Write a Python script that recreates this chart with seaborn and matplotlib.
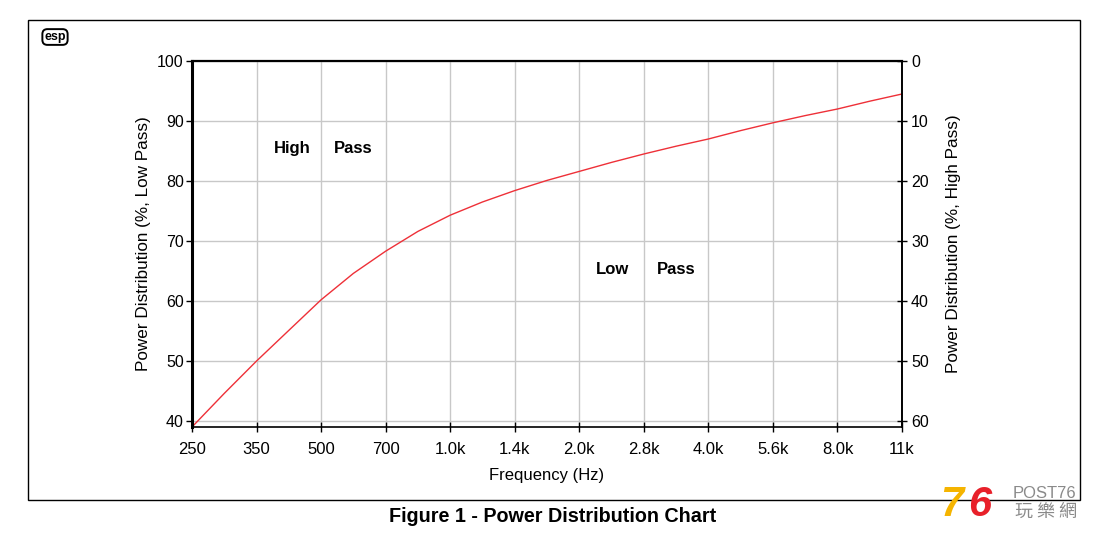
import matplotlib
matplotlib.use("Agg")
import matplotlib.pyplot as plt
from matplotlib.patches import Rectangle
import seaborn as sns
import pandas as pd

# ---- data ----
tick_freq_hz = [250, 353.6, 500, 707.1, 1000, 1414, 2000, 2828, 4000, 5657, 8000, 11314]
tick_labels = ["250", "350", "500", "700", "1.0k", "1.4k", "2.0k", "2.8k", "4.0k", "5.6k", "8.0k", "11k"]
curve_freq_hz = [250, 297.3, 353.6, 420.4, 500, 594.6, 707.1, 840.9, 1000, 1189, 1414,
                 1682, 2000, 2378, 2828, 3364, 4000, 4757, 5657, 6727, 8000, 9514, 11314]
low_pass_pct = [39.0, 44.6, 50.0, 55.1, 60.2, 64.6, 68.3, 71.6, 74.3, 76.5, 78.4,
                80.1, 81.6, 83.1, 84.5, 85.8, 87.0, 88.4, 89.7, 90.9, 92.0, 93.3, 94.5]
left_ticks = [40, 50, 60, 70, 80, 90, 100]
right_ticks = [0, 10, 20, 30, 40, 50, 60]

plt.rcParams['font.family'] = ['Liberation Sans', 'DejaVu Sans']

df = pd.DataFrame({"freq": curve_freq_hz, "low": low_pass_pct})

fig = plt.figure(figsize=(11, 5.35), dpi=100)
W, H = 1100, 535
ax = fig.add_axes([192 / W, 1 - 427 / H, 710 / W, 366 / H])

sns.lineplot(data=df, x="freq", y="low", ax=ax, color="#ee3038", linewidth=1.0)

ax.set_xscale("log")
ax.set_xlim(tick_freq_hz[0], tick_freq_hz[-1])
ax.set_ylim(39, 100)
ax.set_xticks(tick_freq_hz)
ax.set_xticklabels(tick_labels)
ax.minorticks_off()
ax.set_yticks(left_ticks)
ax.grid(True, color="#c8c8c8", linewidth=1.0)
ax.set_axisbelow(True)
for s in ax.spines.values():
    s.set_color("black")
ax.spines["left"].set_linewidth(2.2)
ax.spines["top"].set_linewidth(1.6)
ax.spines["bottom"].set_linewidth(1.2)
ax.spines["right"].set_linewidth(1.2)
ax.tick_params(axis="x", direction="inout", length=7, width=1, labelsize=12, pad=7)
ax.tick_params(axis="y", direction="out", length=4, width=1, labelsize=11.5, pad=2)
ax.set_xlabel("Frequency (Hz)", fontsize=12, labelpad=8)
ax.set_ylabel("Power Distribution (%, Low Pass)", fontsize=12.3, labelpad=4)

ax2 = ax.twinx()
ax2.set_ylim(61, 0)
ax2.set_yticks(right_ticks)
ax2.tick_params(axis="y", direction="inout", length=7, width=1, labelsize=11.5, pad=3)
ax2.set_ylabel("Power Distribution (%, High Pass)", fontsize=12.3, labelpad=12)
for s in ax2.spines.values():
    s.set_visible(False)
ax2.spines["right"].set_visible(True)
ax2.spines["right"].set_linewidth(1.2)

ax.text(0.1155, 0.762, "High", transform=ax.transAxes, fontsize=12, fontweight="bold", va="center")
ax.text(0.200, 0.762, "Pass", transform=ax.transAxes, fontsize=12, fontweight="bold", va="center")
ax.text(0.569, 0.430, "Low", transform=ax.transAxes, fontsize=12, fontweight="bold", va="center")
ax.text(0.655, 0.430, "Pass", transform=ax.transAxes, fontsize=12, fontweight="bold", va="center")

# outer border
fig.patches.append(Rectangle((28 / W, 1 - 500 / H), (1080 - 28) / W, (500 - 20) / H,
                             transform=fig.transFigure, fill=False, edgecolor="black", linewidth=1.0))

# esp logo
fig.text(55 / W, 1 - 37 / H, "esp", fontsize=9, fontweight="bold", ha="center", va="center",
         bbox=dict(boxstyle="round,pad=0.15,rounding_size=0.4", fc="white", ec="black", lw=1.4))

# caption
fig.text(553 / W, 1 - 516 / H, "Figure 1 - Power Distribution Chart", fontsize=14.2,
         fontweight="bold", ha="center", va="center")

# watermark
fig.text(952 / W, 1 - 505 / H, "7", fontsize=30, fontweight="bold", style="italic",
         color="#f5b400", ha="center", va="center")
fig.text(980 / W, 1 - 505 / H, "6", fontsize=30, fontweight="bold", style="italic",
         color="#e8202a", ha="center", va="center")
fig.text(1044 / W, 1 - 494 / H, "POST76", fontsize=12, color="#8a8a8a", ha="center", va="center")
fig.text(1046 / W, 1 - 512 / H, "玩 樂 網", fontsize=13, color="#8a8a8a", ha="center", va="center",
         family=["Noto Sans CJK TC", "DejaVu Sans"])

fig.savefig("out.png", dpi=100, facecolor="white")
